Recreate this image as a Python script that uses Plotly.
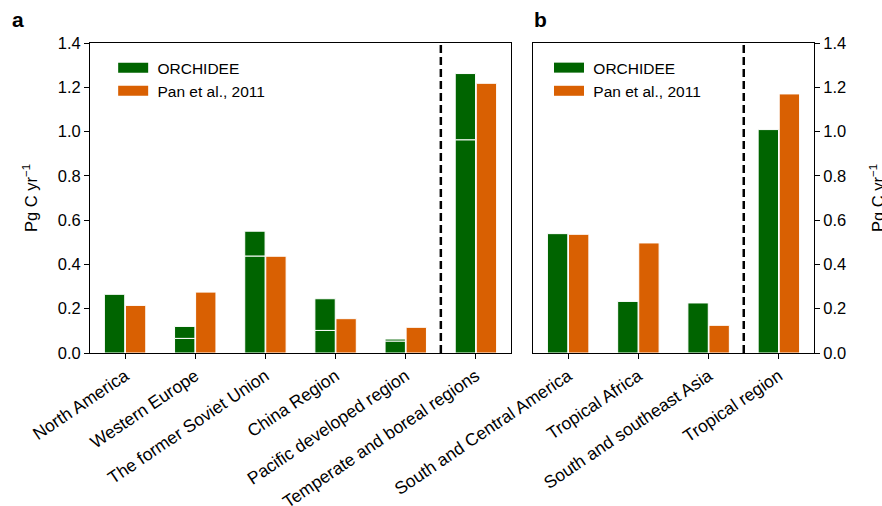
import plotly.graph_objects as go

# Panel a: temperate and boreal regions
regions_a = ["North America", "Western Europe", "The former Soviet Union",
             "China Region", "Pacific developed region", "Temperate and boreal regions"]
orchidee_a = [0.265, 0.12, 0.55, 0.245, 0.063, 1.262]
orchidee_a_lower = [None, 0.066, 0.438, 0.102, 0.054, 0.963]
pan_a = [0.215, 0.275, 0.437, 0.155, 0.116, 1.218]

# Panel b: tropical regions
regions_b = ["South and Central America", "Tropical Africa",
             "South and southeast Asia", "Tropical region"]
orchidee_b = [0.539, 0.233, 0.226, 1.009]
pan_b = [0.536, 0.497, 0.125, 1.17]

y_ticks = [0.0, 0.2, 0.4, 0.6, 0.8, 1.0, 1.2, 1.4]

GREEN = "#006400"
ORANGE = "#d96002"
FONT = "Liberation Sans, Arial, sans-serif"
BAR_W = 0.29

fig = go.Figure()


def add_panel(cats, orch, orch_lower, pan, xa, ya, legend):
    lower = [lo if lo is not None else t for lo, t in zip(orch_lower, orch)]
    upper = [t - lo if lo is not None else None for lo, t in zip(orch_lower, orch)]
    edge = dict(color="white", width=1)
    fig.add_trace(go.Bar(x=cats, y=lower, width=BAR_W, offset=-BAR_W - 0.005,
                         marker=dict(color=GREEN, line=edge), xaxis=xa, yaxis=ya,
                         showlegend=False))
    if any(u is not None for u in upper):
        fig.add_trace(go.Bar(x=cats, y=upper, base=orch_lower, width=BAR_W,
                             offset=-BAR_W - 0.005,
                             marker=dict(color=GREEN, line=edge), xaxis=xa, yaxis=ya,
                             showlegend=False))
    fig.add_trace(go.Bar(x=cats, y=pan, width=BAR_W, offset=0.005,
                         marker=dict(color=ORANGE, line=edge), xaxis=xa, yaxis=ya,
                         showlegend=False))
    # legend swatches
    for name, col in (("\u00a0ORCHIDEE", GREEN), ("\u00a0Pan et al., 2011", ORANGE)):
        fig.add_trace(go.Scatter(x=[None], y=[None], mode="lines", name=name,
                                 line=dict(color=col, width=10), xaxis=xa, yaxis=ya,
                                 legend=legend))


add_panel(regions_a, orchidee_a, orchidee_a_lower, pan_a, "x", "y", "legend")
add_panel(regions_b, orchidee_b, [None] * len(orchidee_b), pan_b, "x2", "y2", "legend2")

common_x = dict(showline=True, linecolor="black", linewidth=1, mirror=True,
                ticks="outside", ticklen=5, tickcolor="black", tickangle=-34,
                showgrid=False, automargin=False,
                tickfont=dict(size=17.5, color="black", family=FONT))
common_y = dict(range=[0, 1.4], tickvals=y_ticks, ticktext=[f"{v:.1f}" for v in y_ticks],
                showline=True, linecolor="black", linewidth=1, mirror=True,
                ticks="outside", ticklen=5, tickcolor="black", showgrid=False,
                zeroline=False, automargin=False,
                tickfont=dict(size=16.5, color="black", family=FONT))

fig.update_layout(
    width=882, height=506,
    margin=dict(l=90, r=68, t=43, b=153),
    plot_bgcolor="white", paper_bgcolor="white",
    barmode="overlay",
    font=dict(family=FONT, color="black", size=16),
    xaxis=dict(domain=[0, 0.5815], range=[-0.5, 5.5], **common_x),
    xaxis2=dict(domain=[0.6119, 1], range=[-0.5, 3.5], **common_x),
    yaxis=dict(anchor="x", **common_y),
    yaxis2=dict(anchor="x2", side="right", **common_y),
    legend=dict(x=0.032, y=0.974, xanchor="left", yanchor="top",
                bgcolor="rgba(0,0,0,0)", font=dict(size=15.5), tracegroupgap=0),
    legend2=dict(x=0.634, y=0.974, xanchor="left", yanchor="top",
                 bgcolor="rgba(0,0,0,0)", font=dict(size=15.5), tracegroupgap=0),
    shapes=[
        dict(type="line", xref="x", yref="y domain", x0=4.5, x1=4.5, y0=0, y1=1,
             line=dict(color="black", width=2.5, dash="8px,4px")),
        dict(type="line", xref="x2", yref="y2 domain", x0=2.5, x1=2.5, y0=0, y1=1,
             line=dict(color="black", width=2.5, dash="8px,4px")),
    ],
    annotations=[
        dict(text="<b>a</b>", x=-0.1000, y=1.075, xref="paper", yref="paper",
             showarrow=False, font=dict(size=21), xanchor="center", yanchor="middle"),
        dict(text="<b>b</b>", x=0.6229, y=1.075, xref="paper", yref="paper",
             showarrow=False, font=dict(size=21), xanchor="center", yanchor="middle"),
        dict(text="Pg C yr<sup>\u22121</sup>", x=-0.083, y=0.5, xref="paper", yref="paper",
             showarrow=False, textangle=-90, font=dict(size=16.5),
             xanchor="center", yanchor="middle"),
        dict(text="Pg C yr<sup>\u22121</sup>", x=1.087, y=0.5, xref="paper", yref="paper",
             showarrow=False, textangle=-90, font=dict(size=16.5),
             xanchor="center", yanchor="middle"),
    ],
)

fig.write_html("out.html")
